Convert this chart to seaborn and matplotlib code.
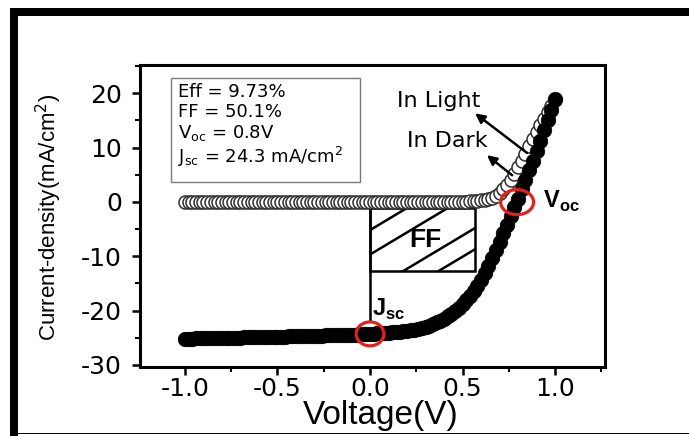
import matplotlib
matplotlib.use('Agg')
import matplotlib.pyplot as plt
import seaborn as sns
import pandas as pd
from matplotlib.patches import Rectangle, Ellipse
from matplotlib.ticker import MultipleLocator

# ---------------- data ----------------
voltage = [
    -1.00, -0.98, -0.96, -0.94, -0.92, -0.90, -0.88, -0.86, -0.84, -0.82,
    -0.80, -0.78, -0.76, -0.74, -0.72, -0.70, -0.68, -0.66, -0.64, -0.62,
    -0.60, -0.58, -0.56, -0.54, -0.52, -0.50, -0.48, -0.46, -0.44, -0.42,
    -0.40, -0.38, -0.36, -0.34, -0.32, -0.30, -0.28, -0.26, -0.24, -0.22,
    -0.20, -0.18, -0.16, -0.14, -0.12, -0.10, -0.08, -0.06, -0.04, -0.02,
    0.00, 0.02, 0.04, 0.06, 0.08, 0.10, 0.12, 0.14, 0.16, 0.18,
    0.20, 0.22, 0.24, 0.26, 0.28, 0.30, 0.32, 0.34, 0.36, 0.38,
    0.40, 0.42, 0.44, 0.46, 0.48, 0.50, 0.52, 0.54, 0.56, 0.58,
    0.60, 0.62, 0.64, 0.66, 0.68, 0.70, 0.72, 0.74, 0.76, 0.78,
    0.80, 0.82, 0.84, 0.86, 0.88, 0.90, 0.92, 0.94, 0.96, 0.98,
    1.00,
]

j_light = [
    -25.20, -25.18, -25.17, -25.15, -25.14, -25.12, -25.11, -25.10, -25.08, -25.07,
    -25.05, -25.04, -25.02, -25.01, -24.99, -24.98, -24.96, -24.95, -24.93, -24.92,
    -24.90, -24.88, -24.87, -24.85, -24.84, -24.82, -24.80, -24.79, -24.77, -24.75,
    -24.74, -24.72, -24.70, -24.68, -24.67, -24.65, -24.63, -24.61, -24.59, -24.57,
    -24.55, -24.53, -24.51, -24.49, -24.47, -24.45, -24.42, -24.40, -24.37, -24.34,
    -24.30, -24.27, -24.23, -24.19, -24.14, -24.09, -24.03, -23.97, -23.90, -23.82,
    -23.73, -23.63, -23.52, -23.40, -23.26, -23.00, -22.80, -22.50, -22.20, -21.90,
    -21.50, -21.10, -20.60, -20.10, -19.50, -18.80, -18.10, -17.30, -16.40, -15.40,
    -14.30, -13.10, -11.80, -10.40, -8.90, -7.40, -5.80, -4.20, -2.60, -1.00,
    0.60, 2.30, 4.00, 5.80, 7.60, 9.40, 11.30, 13.20, 15.10, 17.00,
    19.00,
]

j_dark = [
    0.00, 0.00, 0.00, 0.00, 0.00, 0.00, 0.00, 0.00, 0.00, 0.00,
    0.00, 0.00, 0.00, 0.00, 0.00, 0.00, 0.00, 0.00, 0.00, 0.00,
    0.00, 0.00, 0.00, 0.00, 0.00, 0.00, 0.00, 0.00, 0.00, 0.00,
    0.00, 0.00, 0.00, 0.00, 0.00, 0.00, 0.00, 0.00, 0.00, 0.00,
    0.00, 0.00, 0.00, 0.00, 0.00, 0.00, 0.00, 0.00, 0.00, 0.00,
    0.00, 0.00, 0.00, 0.00, 0.00, 0.00, 0.00, 0.00, 0.00, 0.00,
    0.00, 0.00, 0.00, 0.00, 0.00, 0.00, 0.00, 0.00, 0.00, 0.00,
    0.00, 0.00, 0.00, 0.00, 0.00, 0.00, 0.05, 0.08, 0.12, 0.18,
    0.26, 0.37, 0.52, 0.75, 1.10, 1.60, 2.30, 3.10, 4.10, 5.20,
    6.40, 7.60, 8.90, 10.20, 11.50, 12.80, 14.10, 15.30, 16.50, 17.60,
    18.70,
]

x_ticks = [-1.0, -0.5, 0.0, 0.5, 1.0]
x_tick_labels = ['-1.0', '-0.5', '0.0', '0.5', '1.0']
y_ticks = [-30, -20, -10, 0, 10, 20]
y_tick_labels = ['-30', '-20', '-10', '0', '10', '20']

stats_lines = ['Eff = 9.73%', 'FF = 50.1%', r'V$_{\rm oc}$ = 0.8V',
               r'J$_{\rm sc}$ = 24.3 mA/cm$^{2}$']
jsc_value = -24.3
voc_value = 0.795
ff_vmax = 0.568
ff_jmax = -1.16
ff_jmin = -12.8

# ---------------- style ----------------
sns.set_style('ticks')
plt.rcParams['font.family'] = ['DejaVu Sans']
plt.rcParams['axes.unicode_minus'] = False
plt.rcParams['mathtext.fontset'] = 'custom'
plt.rcParams['mathtext.rm'] = 'DejaVu Sans'
plt.rcParams['mathtext.bf'] = 'Liberation Sans:bold'
for key in ['text.color', 'axes.labelcolor', 'xtick.color', 'ytick.color',
            'xtick.labelcolor', 'ytick.labelcolor', 'axes.edgecolor']:
    plt.rcParams[key] = 'black'

fig = plt.figure(figsize=(6.89, 4.36), dpi=100)
fig.patch.set_facecolor('white')
ax = fig.add_axes([140 / 689, 69 / 436, 465 / 689, 302 / 436])

df = pd.DataFrame({'V': voltage, 'light': j_light, 'dark': j_dark})

sns.scatterplot(data=df, x='V', y='dark', marker='o', s=88, color='white',
                edgecolor='#2e2e2e', linewidth=1.1, ax=ax, zorder=2, legend=False)

# FF rectangle with sparse hatch lines
rect = Rectangle((0.0, ff_jmin), ff_vmax, ff_jmax - ff_jmin, facecolor='white',
                 edgecolor='black', lw=1.8, zorder=1.5)
ax.add_patch(rect)
hatch_slope = 20.4
for j0 in [-5.2, -9.7, -16.4, -20.3]:
    ln, = ax.plot([0.0, ff_vmax], [j0, j0 + hatch_slope * ff_vmax],
                  color='black', lw=1.8, zorder=1.6)
    ln.set_clip_path(rect)
ax.vlines(0.0, -22.2, ff_jmax, color='black', lw=1.8, zorder=1.6)

sns.scatterplot(data=df, x='V', y='light', marker='o', s=110, color='black',
                edgecolor='black', linewidth=0.5, ax=ax, zorder=3, legend=False)

# red circles at Jsc and Voc
ax.add_patch(Ellipse((0.0, jsc_value), 0.15, 4.4, fill=False,
                     edgecolor='#e3201b', lw=2.3, zorder=6))
ax.add_patch(Ellipse((voc_value, -0.05), 0.178, 4.6, fill=False,
                     edgecolor='#e3201b', lw=2.3, zorder=6))

# stats box
ax.add_patch(Rectangle((-1.076, 3.6), 1.022, 19.2, facecolor='white',
                       edgecolor='#7a7a7a', lw=1.0, zorder=4))
ax.text(-1.035, 7.1, '\n'.join(stats_lines), fontsize=13, ha='left',
        va='baseline', linespacing=1.13, zorder=5)

# labels inside plot
ax.text(0.30, -7.1, 'FF', fontsize=19, fontweight='bold',
        fontfamily='Liberation Sans', ha='center', va='center', zorder=5)
ax.text(0.011, -20.9, r'$\mathbf{J}_{\mathbf{sc}}$', fontsize=17,
        ha='left', va='baseline', zorder=5)
ax.text(0.935, -1.0, r'$\mathbf{V}_{\mathbf{oc}}$', fontsize=17,
        ha='left', va='baseline', zorder=5)
ax.text(0.146, 17.4, 'In Light', fontsize=16, ha='left', va='baseline', zorder=5)
ax.text(0.200, 10.1, 'In Dark', fontsize=16, ha='left', va='baseline', zorder=5)
arrow_kw = dict(arrowstyle='-|>', color='black', lw=1.8, mutation_scale=14,
                shrinkA=0, shrinkB=0)
ax.annotate('', xy=(0.568, 16.3), xytext=(0.849, 9.0), arrowprops=arrow_kw, zorder=5)
ax.annotate('', xy=(0.632, 8.6), xytext=(0.768, 4.9), arrowprops=arrow_kw, zorder=5)

# axes
ax.set_xlim(-1.243, 1.27)
ax.set_ylim(-30.4, 25.2)
ax.set_xticks(x_ticks)
ax.set_xticklabels(x_tick_labels)
ax.set_yticks(y_ticks)
ax.set_yticklabels(y_tick_labels)
ax.xaxis.set_minor_locator(MultipleLocator(0.25))
ax.yaxis.set_minor_locator(MultipleLocator(5))
ax.tick_params(axis='both', which='major', direction='out', length=6, width=1.8,
               labelsize=18, color='black', labelcolor='black')
ax.tick_params(axis='both', which='minor', direction='out', length=3.5, width=1.5,
               color='black')
ax.tick_params(axis='x', which='major', pad=1.5)
ax.tick_params(axis='y', which='major', pad=7)
ax.tick_params(top=False, right=False, which='both')
for sp in ax.spines.values():
    sp.set_visible(True)
    sp.set_linewidth(2.2)
    sp.set_color('black')

ax.set_xlabel('Voltage(V)', fontsize=24, fontfamily='Liberation Sans', color='black')
ax.set_ylabel('Current-density(mA/cm$^2$)', fontsize=16, fontfamily='Liberation Sans',
              color='black')
ax.xaxis.set_label_coords(0.518, -0.108)
ax.yaxis.set_label_coords(-0.163, 0.495)

# figure frame (thick top/left, thin bottom)
fig.add_artist(Rectangle((10 / 689, (436 - 16) / 436), 679 / 689, 8 / 436,
                         transform=fig.transFigure, facecolor='black', edgecolor='none'))
fig.add_artist(Rectangle((10 / 689, 0), 8 / 689, (436 - 8) / 436,
                         transform=fig.transFigure, facecolor='black', edgecolor='none'))
fig.add_artist(Rectangle((10 / 689, 2 / 436), 679 / 689, 1.5 / 436,
                         transform=fig.transFigure, facecolor='black', edgecolor='none'))

fig.savefig('out.png', dpi=100)
